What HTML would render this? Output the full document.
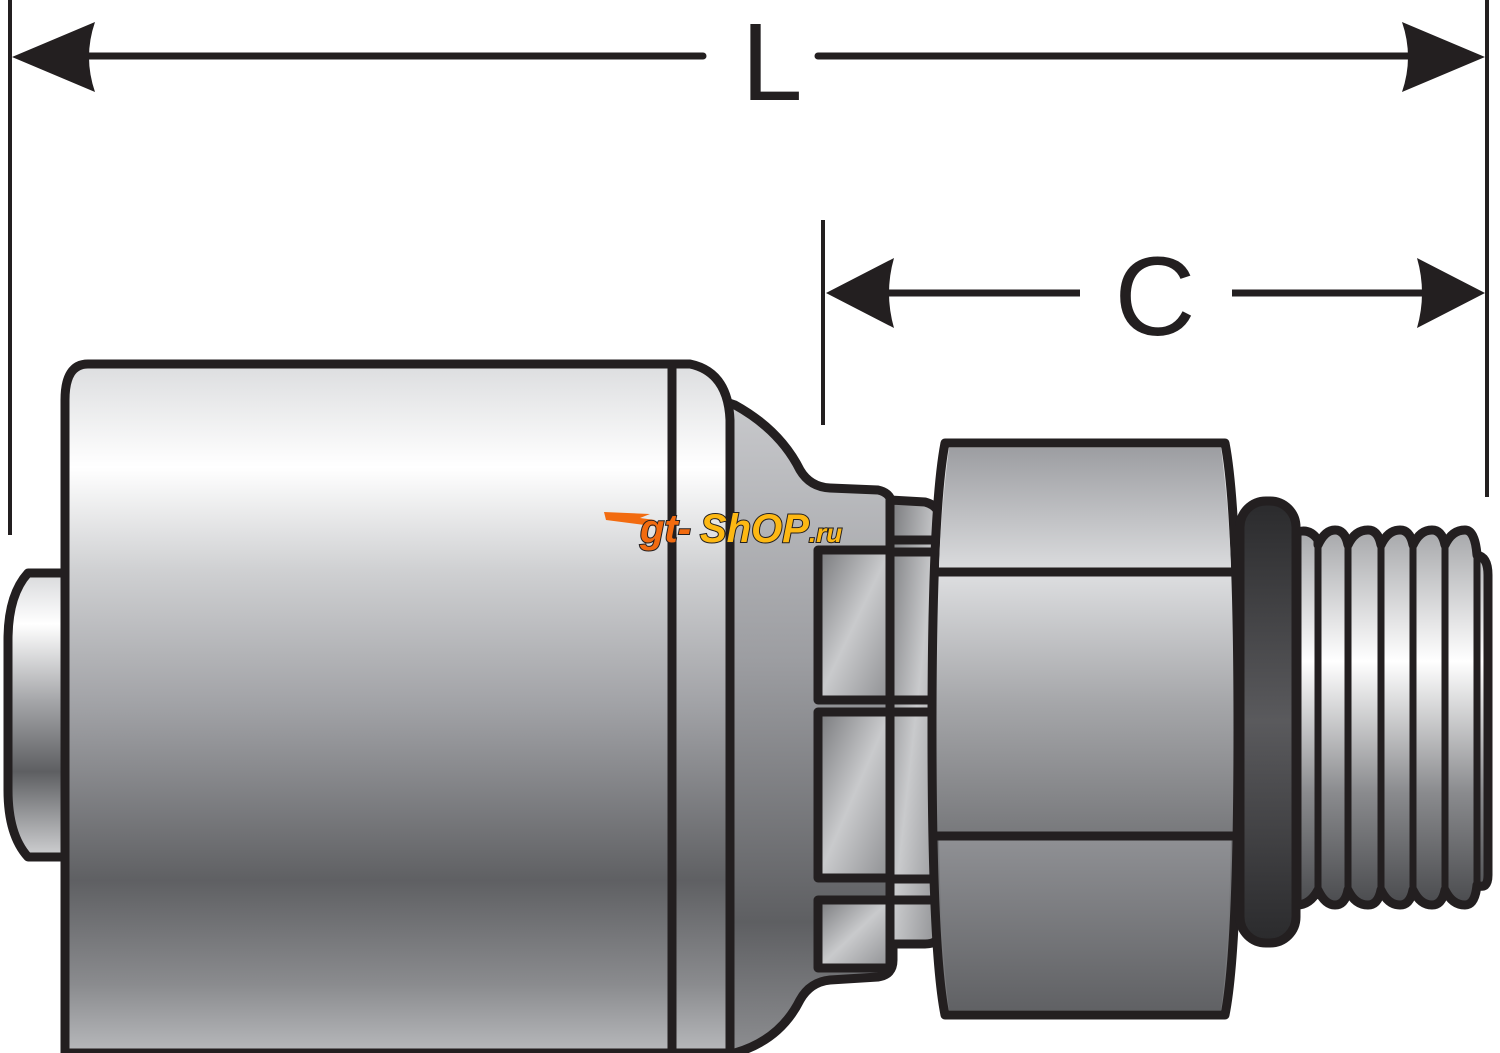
<!DOCTYPE html>
<html><head><meta charset="utf-8"><style>html,body{margin:0;padding:0;background:#fff}svg{display:block}</style></head>
<body>
<svg width="1500" height="1053" viewBox="0 0 1500 1053" xmlns="http://www.w3.org/2000/svg">
<defs>
<linearGradient id="fer" x1="0" y1="364" x2="0" y2="1053" gradientUnits="userSpaceOnUse">
<stop offset="0" stop-color="#dcdddf"/><stop offset="0.15" stop-color="#ffffff"/><stop offset="0.3" stop-color="#cfd0d2"/><stop offset="0.5" stop-color="#a0a1a5"/><stop offset="0.75" stop-color="#5f6063"/><stop offset="0.9" stop-color="#8a8b8e"/><stop offset="1" stop-color="#b8b9bc"/>
</linearGradient>
<linearGradient id="stub" x1="0" y1="573" x2="0" y2="857" gradientUnits="userSpaceOnUse">
<stop offset="0" stop-color="#d8d9db"/><stop offset="0.18" stop-color="#ffffff"/><stop offset="0.45" stop-color="#a5a6a9"/><stop offset="0.7" stop-color="#5e5f62"/><stop offset="1" stop-color="#d0d1d3"/>
</linearGradient>
<linearGradient id="neck" x1="0" y1="400" x2="0" y2="1053" gradientUnits="userSpaceOnUse">
<stop offset="0" stop-color="#c8c9cc"/><stop offset="0.4" stop-color="#9c9da1"/><stop offset="0.8" stop-color="#5e5f62"/><stop offset="1" stop-color="#8d8e91"/>
</linearGradient>
<linearGradient id="blk" x1="0" y1="0" x2="1" y2="1">
<stop offset="0" stop-color="#77787b"/><stop offset="0.5" stop-color="#c9cacc"/><stop offset="1" stop-color="#8e8f92"/>
</linearGradient>
<linearGradient id="hex1" x1="0" y1="443" x2="0" y2="572" gradientUnits="userSpaceOnUse">
<stop offset="0" stop-color="#9a9b9f"/><stop offset="1" stop-color="#dcdddf"/>
</linearGradient>
<linearGradient id="hex2" x1="0" y1="572" x2="0" y2="836" gradientUnits="userSpaceOnUse">
<stop offset="0" stop-color="#dedfe1"/><stop offset="0.5" stop-color="#a5a6a9"/><stop offset="1" stop-color="#77787b"/>
</linearGradient>
<linearGradient id="hex3" x1="0" y1="836" x2="0" y2="1015" gradientUnits="userSpaceOnUse">
<stop offset="0" stop-color="#909195"/><stop offset="1" stop-color="#5f6063"/>
</linearGradient>
<linearGradient id="ring" x1="0" y1="500" x2="0" y2="943" gradientUnits="userSpaceOnUse">
<stop offset="0" stop-color="#2a2a2c"/><stop offset="0.5" stop-color="#5a5a5d"/><stop offset="1" stop-color="#2a2a2c"/>
</linearGradient>
<linearGradient id="thr" x1="0" y1="530" x2="0" y2="905" gradientUnits="userSpaceOnUse">
<stop offset="0" stop-color="#a6a7aa"/><stop offset="0.35" stop-color="#ffffff"/><stop offset="0.7" stop-color="#8a8b8e"/><stop offset="1" stop-color="#4a4b4e"/>
</linearGradient>
</defs>
<g stroke="#231f20" fill="none">
<!-- extension lines -->
<line x1="10" y1="0" x2="10" y2="535" stroke-width="4"/>
<line x1="1487" y1="0" x2="1487" y2="497" stroke-width="4"/>
<line x1="823" y1="220" x2="823" y2="425" stroke-width="4"/>
<!-- L dim -->
<line x1="40" y1="56" x2="703" y2="56" stroke-width="7" stroke-linecap="round"/>
<line x1="818" y1="56" x2="1460" y2="56" stroke-width="7" stroke-linecap="round"/>
<line x1="860" y1="293" x2="1080" y2="293" stroke-width="7"/>
<line x1="1232" y1="293" x2="1460" y2="293" stroke-width="7"/>
</g>
<g fill="#231f20">
<path d="M12 57 L95 22 Q83 57 95 92 Z"/>
<path d="M1485 57 L1402 22 Q1414 57 1402 92 Z"/>
<path d="M826 293 L894 258 Q884 293 894 328 Z"/>
<path d="M1485 293 L1417 258 Q1427 293 1417 328 Z"/>
</g>
<text x="772" y="100" font-family="Liberation Sans, sans-serif" font-size="110" text-anchor="middle" fill="#231f20">L</text>
<text x="1155" y="335" font-family="Liberation Sans, sans-serif" font-size="112" text-anchor="middle" fill="#231f20">C</text>

<g stroke="#231f20" stroke-width="9" stroke-linejoin="round">
<!-- stub -->
<path d="M65 573 L28 573 Q8 595 8 640 L8 790 Q8 835 28 857 L65 857 Z" fill="url(#stub)"/>
<!-- neck -->
<path d="M720 400 L735 405 Q780 430 800 470 Q810 487 830 488 L878 490 Q893 493 893 510 L893 960 Q893 975 878 977 L830 980 Q810 982 800 1000 Q780 1040 735 1053 L720 1053 Z" fill="url(#neck)"/>
<!-- blocks -->
<rect x="818" y="550" width="72" height="150" fill="url(#blk)"/>
<rect x="818" y="712" width="72" height="166" fill="url(#blk)"/>
<rect x="818" y="900" width="72" height="68" fill="url(#blk)"/>
<path d="M890 500 L925 502 Q940 506 940 520 L940 930 Q940 944 925 944 L890 944 Z" fill="url(#blk)"/>
<line x1="890" y1="540" x2="940" y2="540"/>
<line x1="890" y1="552" x2="940" y2="552"/>
<line x1="890" y1="700" x2="940" y2="700"/>
<line x1="890" y1="712" x2="940" y2="712"/>
<line x1="890" y1="879" x2="940" y2="879"/>
<line x1="890" y1="900" x2="940" y2="900"/>
<!-- ferrule -->
<path d="M88 364 L690 364 Q728 372 730 420 L730 1053 L65 1053 L65 400 Q65 364 88 364 Z" fill="url(#fer)"/>
<line x1="672" y1="364" x2="672" y2="1053"/>
<!-- hex -->
<path d="M945 443 L1225 443 Q1238 510 1238 729 Q1238 950 1225 1015 L945 1015 Q932 950 932 729 Q932 510 945 443 Z" fill="url(#hex2)"/>
<path d="M949 448 L1221 448 Q1229 510 1231 568 L939 568 Q941 510 949 448 Z" fill="url(#hex1)" stroke="none"/>
<path d="M939 840 L1231 840 Q1229 950 1221 1010 L949 1010 Q941 950 939 840 Z" fill="url(#hex3)" stroke="none"/>
<line x1="937" y1="572" x2="1233" y2="572"/>
<line x1="937" y1="836" x2="1233" y2="836"/>
<!-- threads -->
<path d="M1297 532 Q1310 528 1318 540 L1318 545 Q1325 530 1335 530 Q1345 530 1348 545 Q1355 530 1368 530 Q1378 530 1381 545 Q1388 530 1400 530 Q1410 530 1413 545 Q1420 530 1432 530 Q1442 530 1445 545 Q1452 530 1465 530 Q1475 530 1477 555 Q1488 557 1488 575 L1488 875 Q1488 890 1477 885 Q1475 905 1465 905 Q1452 905 1445 890 Q1442 905 1432 905 Q1420 905 1413 890 Q1410 905 1400 905 Q1388 905 1381 890 Q1378 905 1368 905 Q1355 905 1348 890 Q1345 905 1335 905 Q1325 905 1318 890 Q1310 905 1297 905 Z" fill="url(#thr)"/>
<g stroke-width="7">
<line x1="1318" y1="545" x2="1318" y2="888"/>
<line x1="1348" y1="545" x2="1348" y2="888"/>
<line x1="1381" y1="545" x2="1381" y2="888"/>
<line x1="1413" y1="545" x2="1413" y2="888"/>
<line x1="1445" y1="545" x2="1445" y2="888"/>
<line x1="1477" y1="555" x2="1477" y2="885"/>
</g>
<!-- o-ring -->
<rect x="1240" y="501" width="56" height="442" rx="26" fill="url(#ring)"/>
</g>
<!-- watermark -->
<g font-family="Liberation Sans, sans-serif" font-weight="bold" font-style="italic">
<path d="M604 512 L650 514 L640 518 L655 520 L645 524 L660 527 L606 520 Z" fill="#f26b10"/>
<text x="640" y="542" font-size="40" fill="#f26b10" stroke="#231f20" stroke-width="2" paint-order="stroke">gt-</text>
<text x="700" y="542" font-size="40" fill="#fdb813" stroke="#231f20" stroke-width="2" paint-order="stroke">ShOP<tspan font-size="26">.ru</tspan></text>
</g>
</svg>
</body></html>
